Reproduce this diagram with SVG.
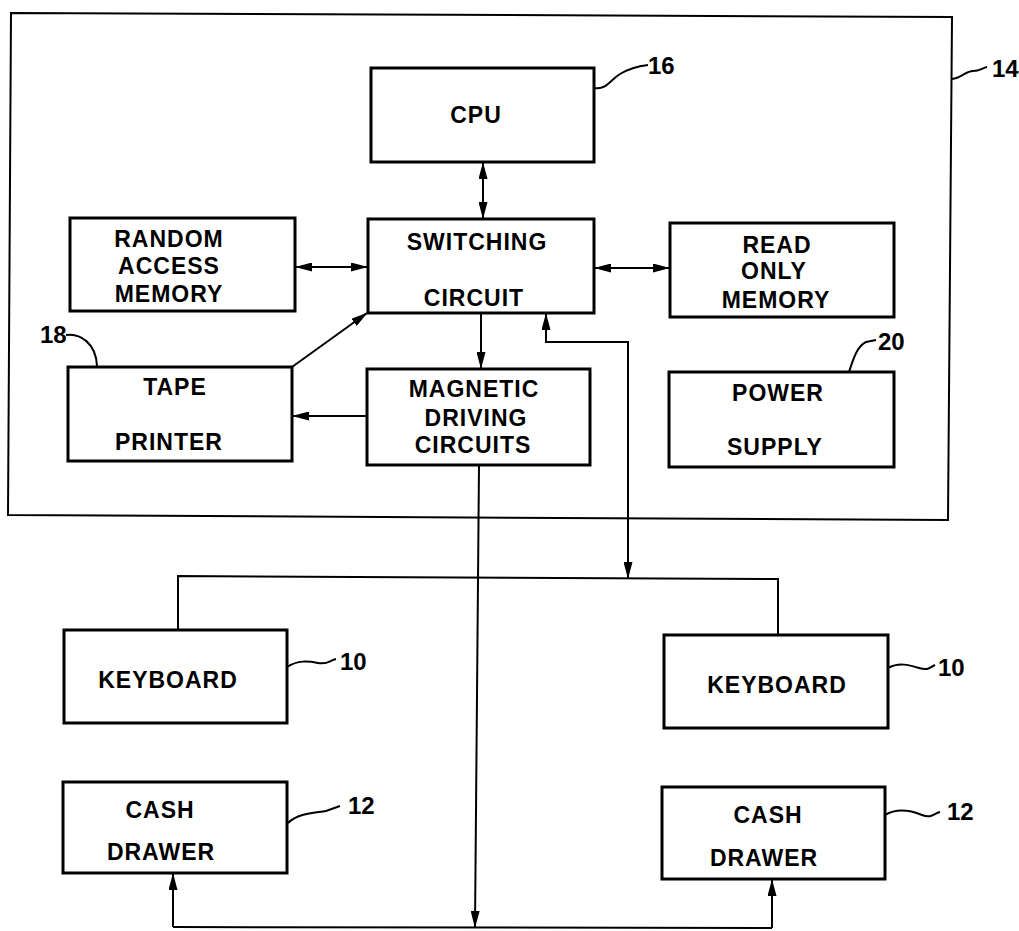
<svg xmlns="http://www.w3.org/2000/svg" width="1019" height="931" viewBox="0 0 1019 931">
<defs>
<style>
.box{fill:none;stroke:#000;stroke-width:3}
.outer{fill:none;stroke:#000;stroke-width:2}
.ln{fill:none;stroke:#000;stroke-width:2}
.ld{fill:none;stroke:#000;stroke-width:2}
text{font-family:"Liberation Sans",Arial,sans-serif;font-weight:bold;font-size:23px;fill:#000;letter-spacing:1px}
.t{text-anchor:middle}
.lab{font-size:24px;letter-spacing:0}
</style>
<marker id="ah" markerUnits="userSpaceOnUse" markerWidth="17" markerHeight="9" refX="16" refY="4.5" orient="auto-start-reverse" viewBox="0 0 17 9">
<path d="M0,0 L17,4.5 L0,9 z" fill="#000"/>
</marker>
</defs>
<rect width="1019" height="931" fill="#fff"/>

<g id="unit14">
<polygon class="outer" points="11,13 952,17 948,520 8,515"/>
<path class="ld" d="M952,79 C961,78 966,71 973,71 S982,68 987,67"/>
<text class="lab" x="992" y="77">14</text>
</g>

<g id="cpu">
<rect class="box" x="371" y="68" width="223" height="94"/>
<text class="t" x="476" y="123">CPU</text>
<path class="ld" d="M595,88 C606,90 610,80 620,74 S640,66 648,65"/>
<text class="lab" x="648" y="74">16</text>
</g>

<g id="ram">
<rect class="box" x="70" y="218" width="225" height="93"/>
<text class="t" x="169" y="247">RANDOM</text>
<text class="t" x="169" y="274">ACCESS</text>
<text class="t" x="169" y="302">MEMORY</text>
</g>

<g id="switching">
<rect class="box" x="368" y="219" width="226" height="94"/>
<text class="t" x="477" y="250">SWITCHING</text>
<text class="t" x="474" y="306">CIRCUIT</text>
</g>

<g id="rom">
<rect class="box" x="670" y="223" width="224" height="94"/>
<text class="t" x="777" y="253">READ</text>
<text class="t" x="774" y="279">ONLY</text>
<text class="t" x="776" y="308">MEMORY</text>
</g>

<g id="tape">
<rect class="box" x="68" y="367" width="224" height="94"/>
<text class="t" x="175" y="395">TAPE</text>
<text class="t" x="169" y="450">PRINTER</text>
<path class="ld" d="M66,335 C80,333 96,343 97,366"/>
<text class="lab" x="40" y="343">18</text>
</g>

<g id="magnetic">
<rect class="box" x="367" y="369" width="223" height="96"/>
<text class="t" x="474" y="397">MAGNETIC</text>
<text class="t" x="476" y="426">DRIVING</text>
<text class="t" x="473" y="453">CIRCUITS</text>
</g>

<g id="power">
<rect class="box" x="669" y="372" width="225" height="95"/>
<text class="t" x="778" y="401">POWER</text>
<text class="t" x="775" y="455">SUPPLY</text>
<path class="ld" d="M849,372 C853,360 857,346 866,342 L876,340"/>
<text class="lab" x="878" y="350">20</text>
</g>

<g id="keyboard1">
<rect class="box" x="64" y="630" width="223" height="93"/>
<text class="t" x="168" y="688">KEYBOARD</text>
<path class="ld" d="M287,667 C298,660 308,661 318,663 S330,660 336,659"/>
<text class="lab" x="340" y="670">10</text>
</g>

<g id="keyboard2">
<rect class="box" x="664" y="635" width="224" height="93"/>
<text class="t" x="777" y="693">KEYBOARD</text>
<path class="ld" d="M888,668 C899,662 909,665 919,668 S930,667 935,665"/>
<text class="lab" x="938" y="676">10</text>
</g>

<g id="drawer1">
<rect class="box" x="63" y="782" width="224" height="91"/>
<text class="t" x="160" y="818">CASH</text>
<text class="t" x="161" y="860">DRAWER</text>
<path class="ld" d="M288,823 C298,813 315,813 326,811 L340,806"/>
<text class="lab" x="348" y="814">12</text>
</g>

<g id="drawer2">
<rect class="box" x="662" y="787" width="223" height="92"/>
<text class="t" x="768" y="823">CASH</text>
<text class="t" x="764" y="866">DRAWER</text>
<path class="ld" d="M885,815 C897,808 912,811 922,815 S934,813 940,812"/>
<text class="lab" x="947" y="820">12</text>
</g>

<g id="connectors">
<line class="ln" x1="483" y1="163" x2="483" y2="218" marker-start="url(#ah)" marker-end="url(#ah)"/>
<line class="ln" x1="296" y1="267" x2="367" y2="267" marker-start="url(#ah)" marker-end="url(#ah)"/>
<line class="ln" x1="595" y1="268" x2="669" y2="268" marker-start="url(#ah)" marker-end="url(#ah)"/>
<line class="ln" x1="481" y1="313" x2="481" y2="368" marker-end="url(#ah)"/>
<line class="ln" x1="292" y1="367" x2="367" y2="313" marker-end="url(#ah)"/>
<line class="ln" x1="367" y1="416" x2="293" y2="416" marker-end="url(#ah)"/>
<path class="ln" d="M546,314 V342 H628 V578" marker-start="url(#ah)" marker-end="url(#ah)"/>
<polyline class="ln" points="178,630 178,576 778,579 778,635"/>
<line class="ln" x1="479" y1="465" x2="475" y2="927" marker-end="url(#ah)"/>
<line class="ln" x1="173" y1="927" x2="772" y2="928"/>
<line class="ln" x1="173" y1="927" x2="173" y2="874" marker-end="url(#ah)"/>
<line class="ln" x1="772" y1="928" x2="772" y2="880" marker-end="url(#ah)"/>
</g>
</svg>
